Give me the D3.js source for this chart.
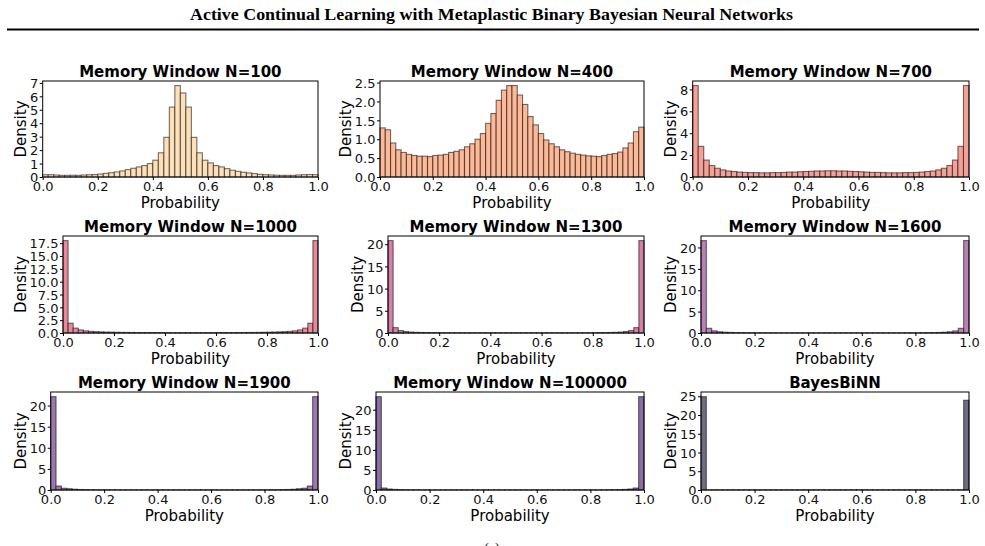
<!DOCTYPE html>
<html>
<head>
<meta charset="utf-8">
<script src="https://cdn.jsdelivr.net/npm/d3@7/dist/d3.min.js"></script>
<style>
  body { margin: 0; background: #fff; }
  svg { display: block; }
</style>
</head>
<body>
<div id="chart-container"></div>
<script>
// histogram bins: 50 bins of width 0.02 on [0, 1]
const binWidth = 0.02;
const binStarts = d3.range(50).map((i) => i * binWidth);

const panelTitles = [
  'Memory Window N=100', 'Memory Window N=400', 'Memory Window N=700',
  'Memory Window N=1000', 'Memory Window N=1300', 'Memory Window N=1600',
  'Memory Window N=1900', 'Memory Window N=100000', 'BayesBiNN',
];

// densities, one value per bin
const densN100 = [
  0.17, 0.17, 0.15, 0.12, 0.12, 0.13, 0.12, 0.15, 0.17, 0.18,
  0.22, 0.27, 0.32, 0.38, 0.45, 0.55, 0.65, 0.75, 0.85, 1.0,
  1.25, 1.8, 2.95, 5.2, 6.8, 6.25, 5.2, 2.95, 1.8, 1.25,
  1.05, 0.85, 0.75, 0.62, 0.5, 0.42, 0.35, 0.3, 0.25, 0.2,
  0.17, 0.15, 0.13, 0.12, 0.12, 0.12, 0.15, 0.17, 0.18, 0.17,
];
const densN400 = [
  1.3, 1.25, 0.9, 0.72, 0.65, 0.6, 0.57, 0.55, 0.55, 0.54,
  0.57, 0.58, 0.6, 0.65, 0.68, 0.72, 0.8, 0.88, 1.0, 1.15,
  1.42, 1.68, 2.03, 2.3, 2.42, 2.42, 2.17, 1.92, 1.6, 1.38,
  1.15, 0.98, 0.88, 0.8, 0.72, 0.67, 0.63, 0.6, 0.58, 0.56,
  0.55, 0.54, 0.57, 0.6, 0.62, 0.66, 0.77, 0.9, 1.2, 1.32,
];
const densN700 = [
  8.35, 2.8, 1.55, 1.05, 0.8, 0.65, 0.55, 0.5, 0.45, 0.42,
  0.4, 0.4, 0.38, 0.38, 0.4, 0.4, 0.42, 0.45, 0.45, 0.48,
  0.5, 0.52, 0.55, 0.55, 0.57, 0.57, 0.55, 0.55, 0.52, 0.5,
  0.48, 0.45, 0.42, 0.42, 0.4, 0.38, 0.38, 0.38, 0.4, 0.4,
  0.42, 0.45, 0.5, 0.55, 0.65, 0.8, 1.05, 1.55, 2.8, 8.35,
];
const densN1000 = [
  18.0, 1.9, 0.95, 0.6, 0.42, 0.32, 0.26, 0.22, 0.18, 0.16,
  0.14, 0.12, 0.11, 0.1, 0.09, 0.09, 0.08, 0.08, 0.08, 0.08,
  0.07, 0.07, 0.07, 0.07, 0.07, 0.07, 0.07, 0.07, 0.07, 0.07,
  0.08, 0.08, 0.08, 0.08, 0.09, 0.09, 0.1, 0.11, 0.12, 0.14,
  0.16, 0.18, 0.22, 0.26, 0.32, 0.42, 0.6, 0.95, 1.9, 18.0,
];
const densN1300 = [
  20.8, 1.2, 0.55, 0.32, 0.2, 0.15, 0.12, 0.1, 0.08, 0.07,
  0.06, 0.06, 0.05, 0.05, 0.05, 0.05, 0.05, 0.05, 0.05, 0.05,
  0.05, 0.05, 0.05, 0.05, 0.05, 0.05, 0.05, 0.05, 0.05, 0.05,
  0.05, 0.05, 0.05, 0.05, 0.05, 0.05, 0.05, 0.05, 0.06, 0.06,
  0.07, 0.08, 0.1, 0.12, 0.15, 0.2, 0.32, 0.55, 1.2, 20.8,
];
const densN1600 = [
  21.6, 1.1, 0.5, 0.28, 0.18, 0.13, 0.1, 0.08, 0.07, 0.06,
  0.05, 0.05, 0.05, 0.04, 0.04, 0.04, 0.04, 0.04, 0.04, 0.04,
  0.04, 0.04, 0.04, 0.04, 0.04, 0.04, 0.04, 0.04, 0.04, 0.04,
  0.04, 0.04, 0.04, 0.04, 0.04, 0.04, 0.04, 0.05, 0.05, 0.05,
  0.06, 0.07, 0.08, 0.1, 0.13, 0.18, 0.28, 0.5, 1.1, 21.6,
];
const densN1900 = [
  22.1, 0.95, 0.42, 0.3, 0.18, 0.12, 0.09, 0.07, 0.06, 0.05,
  0.05, 0.04, 0.04, 0.04, 0.04, 0.04, 0.04, 0.04, 0.04, 0.04,
  0.04, 0.04, 0.04, 0.04, 0.04, 0.04, 0.04, 0.04, 0.04, 0.04,
  0.04, 0.04, 0.04, 0.04, 0.04, 0.04, 0.04, 0.04, 0.04, 0.05,
  0.05, 0.06, 0.07, 0.09, 0.12, 0.18, 0.3, 0.42, 0.95, 22.1,
];
const densN100000 = [
  23.25, 0.5, 0.25, 0.15, 0.1, 0.07, 0.06, 0.05, 0.04, 0.04,
  0.04, 0.04, 0.04, 0.04, 0.04, 0.04, 0.04, 0.04, 0.04, 0.04,
  0.04, 0.04, 0.04, 0.04, 0.04, 0.04, 0.04, 0.04, 0.04, 0.04,
  0.04, 0.04, 0.04, 0.04, 0.04, 0.04, 0.04, 0.04, 0.04, 0.04,
  0.04, 0.04, 0.05, 0.06, 0.07, 0.1, 0.15, 0.25, 0.5, 23.25,
];
const densBayesBiNN = [
  24.9, 0.05, 0.05, 0.05, 0.05, 0.05, 0.05, 0.05, 0.05, 0.05,
  0.05, 0.05, 0.05, 0.05, 0.05, 0.05, 0.05, 0.05, 0.05, 0.05,
  0.05, 0.05, 0.05, 0.05, 0.05, 0.05, 0.05, 0.05, 0.05, 0.05,
  0.05, 0.05, 0.05, 0.05, 0.05, 0.05, 0.05, 0.05, 0.05, 0.05,
  0.05, 0.05, 0.05, 0.05, 0.05, 0.05, 0.05, 0.05, 0.05, 23.95,
];

const xTicks = [0, 0.2, 0.4, 0.6, 0.8, 1.0];
const xTickLabels = ['0.0', '0.2', '0.4', '0.6', '0.8', '1.0'];

const yTicks = [
  [0, 1, 2, 3, 4, 5, 6, 7],
  [0, 0.5, 1, 1.5, 2, 2.5],
  [0, 2, 4, 6, 8],
  [0, 2.5, 5, 7.5, 10, 12.5, 15, 17.5],
  [0, 5, 10, 15, 20],
  [0, 5, 10, 15, 20],
  [0, 5, 10, 15, 20],
  [0, 5, 10, 15, 20],
  [0, 5, 10, 15, 20, 25],
];
const yTickLabels = [
  ['0', '1', '2', '3', '4', '5', '6', '7'],
  ['0.0', '0.5', '1.0', '1.5', '2.0', '2.5'],
  ['0', '2', '4', '6', '8'],
  ['0.0', '2.5', '5.0', '7.5', '10.0', '12.5', '15.0', '17.5'],
  ['0', '5', '10', '15', '20'],
  ['0', '5', '10', '15', '20'],
  ['0', '5', '10', '15', '20'],
  ['0', '5', '10', '15', '20'],
  ['0', '5', '10', '15', '20', '25'],
];

const allDensities = [densN100, densN400, densN700, densN1000, densN1300,
  densN1600, densN1900, densN100000, densBayesBiNN];

const barColors = ['#fddfb8', '#fcb897', '#f4a096', '#e68a9a', '#d67fa8',
  '#bb80b5', '#9d77b1', '#8a6fa6', '#6f6c82'];

// plot-area rectangles [left, top, right, bottom]
const plotRects = [
  [42.7, 81, 318, 177], [380, 81, 644, 177], [692.7, 81, 969, 177],
  [63, 236, 318, 333], [388, 236, 644, 333], [701, 236, 969, 333],
  [50.7, 392, 318, 490], [376, 392, 644, 490], [701, 392, 969, 490],
];

const W = 985;
const H = 546;
const sans = '"DejaVu Sans", sans-serif';

const svg = d3.select('#chart-container')
    .append('svg')
    .attr('width', W)
    .attr('height', H);

// paper header
svg.append('text')
    .attr('x', 491.5)
    .attr('y', 20)
    .attr('text-anchor', 'middle')
    .attr('textLength', 603)
    .attr('lengthAdjust', 'spacingAndGlyphs')
    .style('font-family', '"Liberation Serif", "Times New Roman", serif')
    .style('font-weight', 'bold')
    .style('font-size', '17px')
    .text('Active Continual Learning with Metaplastic Binary Bayesian Neural Networks');
svg.append('line')
    .attr('x1', 7).attr('x2', 979)
    .attr('y1', 29.5).attr('y2', 29.5)
    .attr('stroke', '#000')
    .attr('stroke-width', 1.8);

// caption, cut by the page bottom
svg.append('text')
    .attr('x', 492)
    .attr('y', 553)
    .attr('text-anchor', 'middle')
    .style('font-family', '"Liberation Serif", serif')
    .style('font-size', '14px')
    .text('(a)');

allDensities.forEach(function(dens, k) {
  const [left, top, right, bottom] = plotRects[k];
  const g = svg.append('g');

  const x = d3.scaleLinear().domain([0, 1]).range([left, right]);
  const y = d3.scaleLinear()
      .domain([0, d3.max(dens) * 1.05])
      .range([bottom, top]);

  g.append('g')
      .selectAll('rect')
      .data(binStarts)
      .enter()
      .append('rect')
      .attr('x', (d) => x(d))
      .attr('y', (d, i) => y(dens[i]))
      .attr('width', (d) => x(d + binWidth) - x(d))
      .attr('height', (d, i) => y(0) - y(dens[i]))
      .attr('fill', barColors[k])
      .attr('stroke', 'rgba(0,0,0,0.55)')
      .attr('stroke-width', 1.1);

  const xAxis = g.append('g')
      .attr('transform', `translate(0, ${bottom})`)
      .call(d3.axisBottom(x)
          .tickValues(xTicks)
          .tickFormat((d, i) => xTickLabels[i])
          .tickSize(3)
          .tickPadding(2));
  xAxis.select('.domain').remove();
  xAxis.selectAll('text')
      .attr('dy', null)
      .attr('y', 14)
      .style('font-family', sans)
      .style('font-size', '13px')
      .style('fill', '#111');

  const yAxis = g.append('g')
      .attr('transform', `translate(${left}, 0)`)
      .call(d3.axisLeft(y)
          .tickValues(yTicks[k])
          .tickFormat((d, i) => yTickLabels[k][i])
          .tickSize(3)
          .tickPadding(1.5));
  yAxis.select('.domain').remove();
  yAxis.selectAll('text')
      .attr('dy', '0.36em')
      .style('font-family', sans)
      .style('font-size', '13px')
      .style('fill', '#111');

  // frame
  g.append('rect')
      .attr('x', left).attr('y', top)
      .attr('width', right - left).attr('height', bottom - top)
      .attr('fill', 'none')
      .attr('stroke', '#000')
      .attr('stroke-width', 1);

  g.append('text')
      .attr('x', (left + right) / 2)
      .attr('y', top - 4.5)
      .attr('text-anchor', 'middle')
      .style('font-family', sans)
      .style('font-weight', 'bold')
      .style('font-size', '15px')
      .text(panelTitles[k]);

  g.append('text')
      .attr('x', (left + right) / 2)
      .attr('y', bottom + 30.5)
      .attr('text-anchor', 'middle')
      .style('font-family', sans)
      .style('font-size', '15px')
      .text('Probability');

  // y label sits just left of the widest tick label
  const labelsLeft = left + yAxis.node().getBBox().x;
  const yc = (top + bottom) / 2;
  g.append('text')
      .attr('transform', `translate(${labelsLeft - 4}, ${yc}) rotate(-90)`)
      .attr('text-anchor', 'middle')
      .style('font-family', sans)
      .style('font-size', '15px')
      .text('Density');
});
</script>
</body>
</html>
